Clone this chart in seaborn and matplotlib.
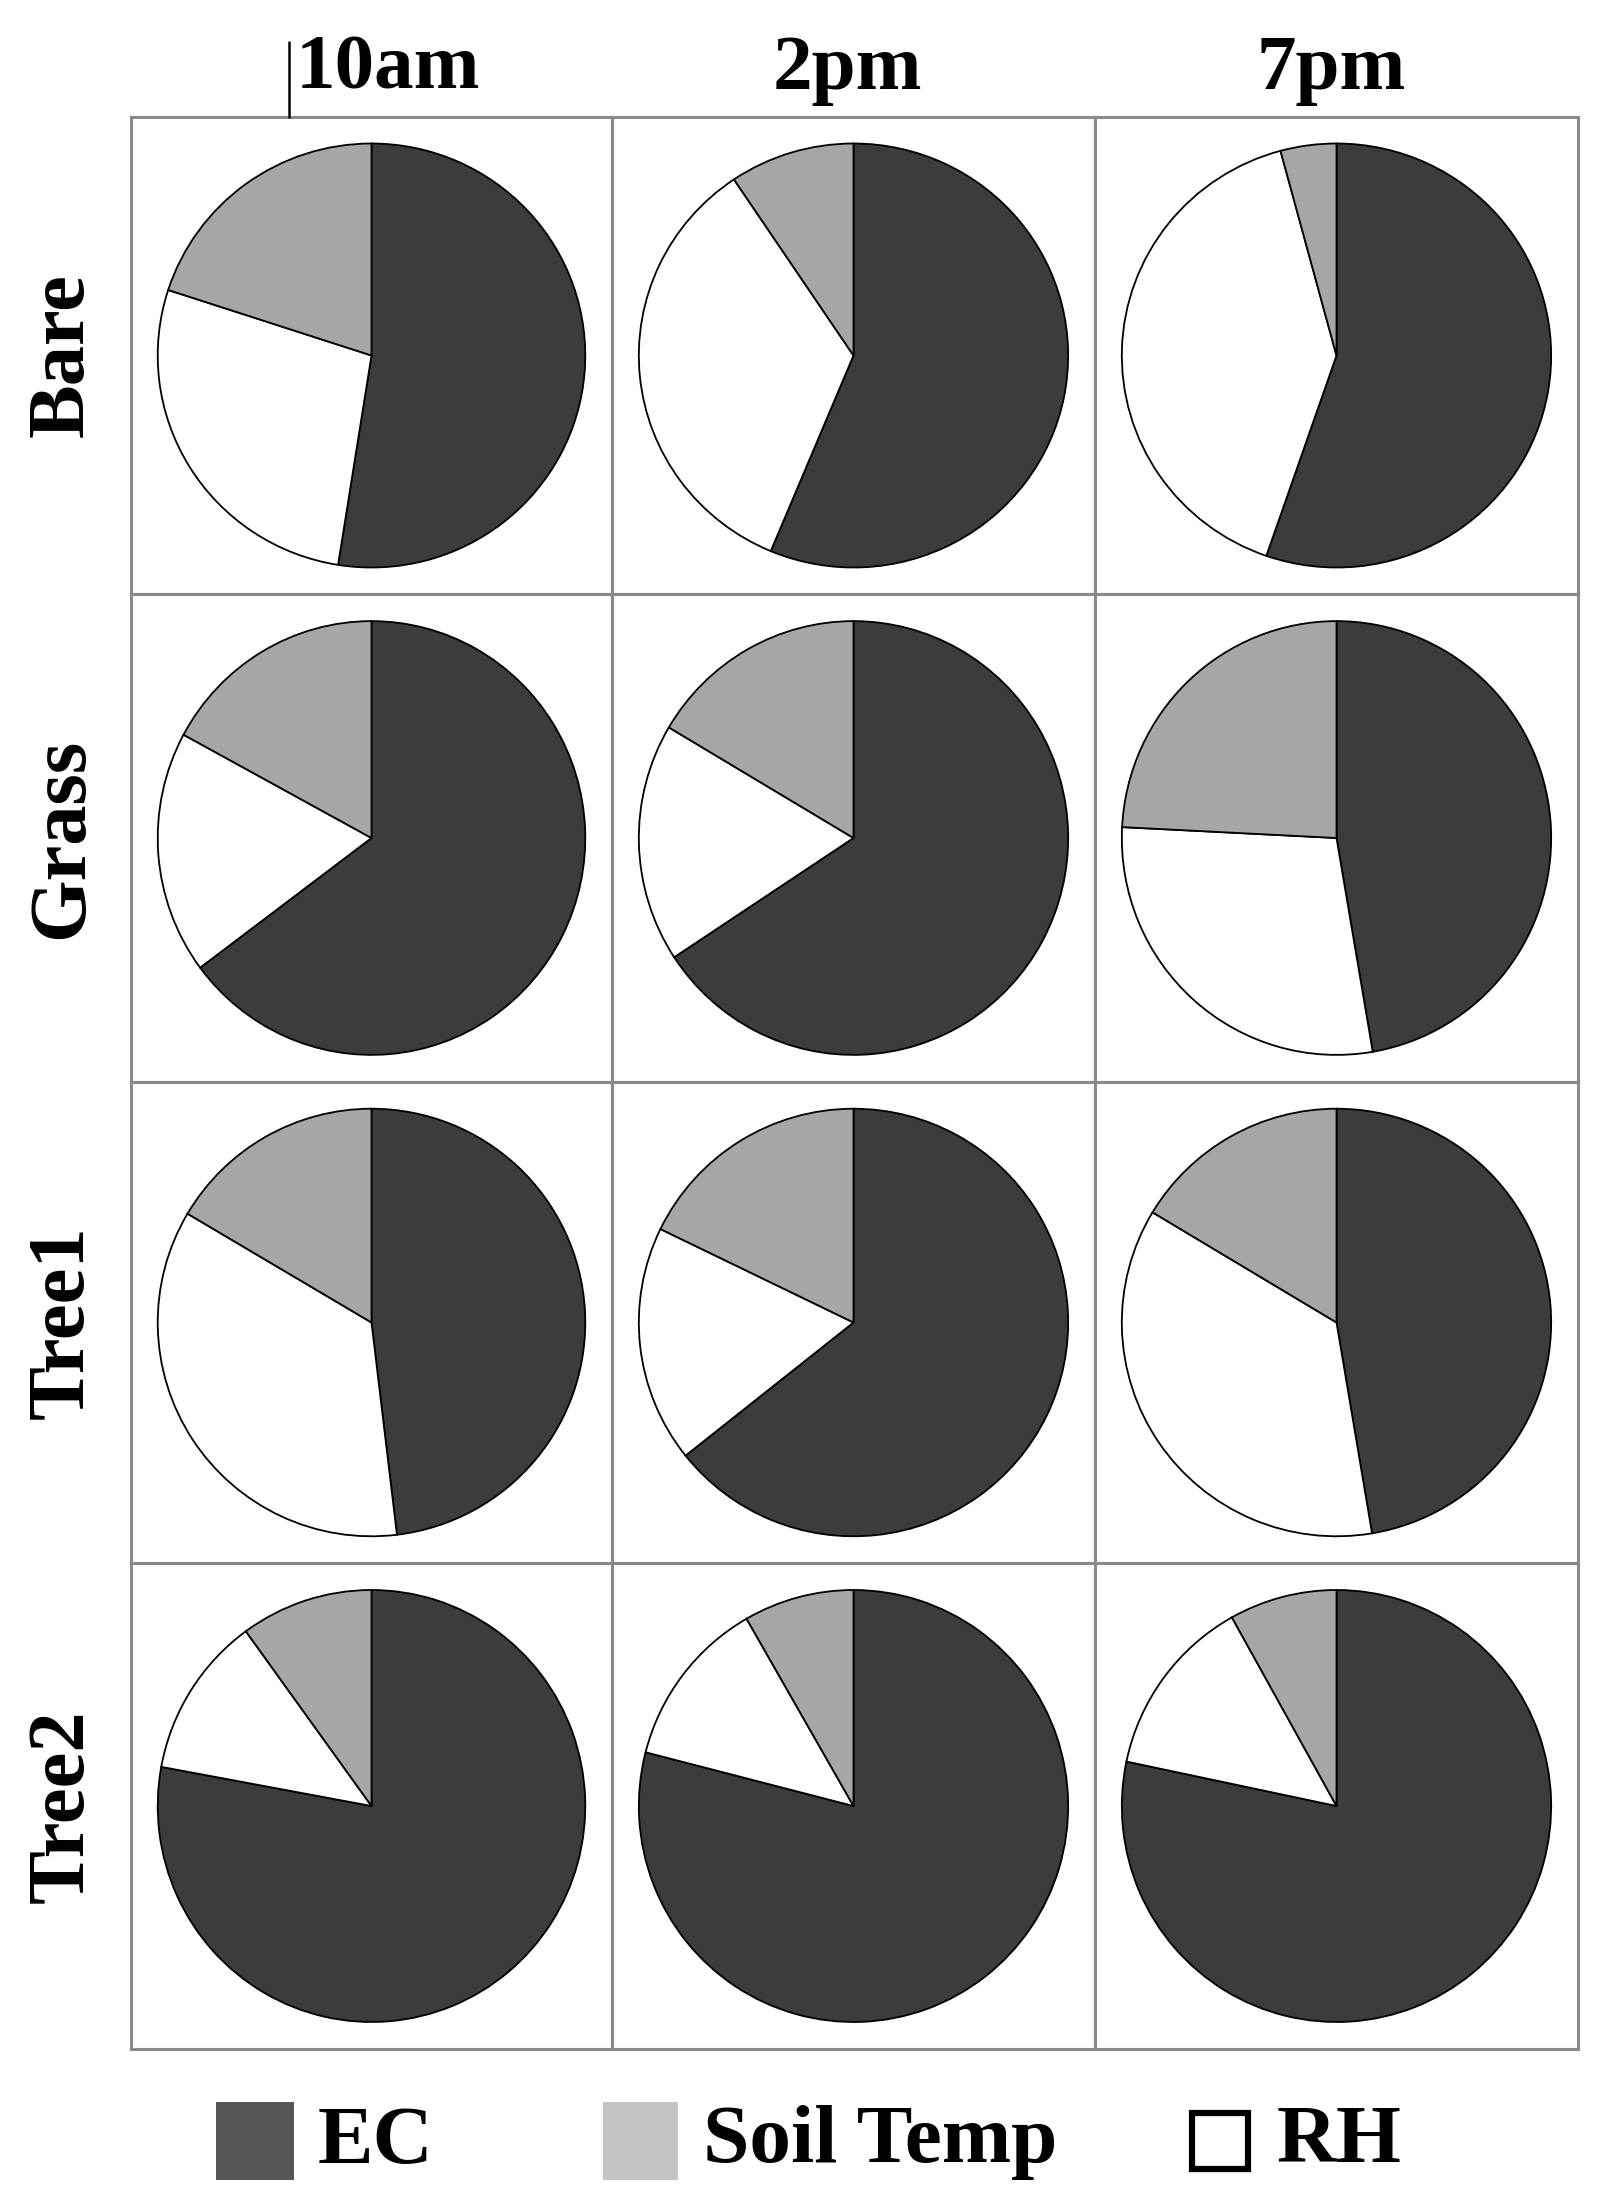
import matplotlib
matplotlib.use("Agg")
import matplotlib.pyplot as plt
import seaborn as sns
from matplotlib.patches import Rectangle
from matplotlib.lines import Line2D

sns.set_theme(style="white")
plt.rcParams['font.family'] = ['Liberation Serif', 'DejaVu Serif']

# ---- data (percent shares) ----
sites = ["Bare", "Grass", "Tree1", "Tree2"]
times = ["10am", "2pm", "7pm"]
series = ["EC", "Soil Temp", "RH"]
ec_share = [[52.5, 56.3, 55.3],
            [64.8, 65.8, 47.3],
            [48.1, 64.3, 47.4],
            [77.9, 79.0, 78.3]]
rh_share = [[27.5, 34.3, 40.5],
            [18.1, 17.8, 28.5],
            [35.4, 17.9, 36.3],
            [12.1, 12.7, 13.6]]
soil_temp_share = [[20.0, 9.4, 4.2],
                   [17.1, 16.5, 24.2],
                   [16.5, 17.8, 16.4],
                   [10.0, 8.3, 8.1]]

# ---- styling ----
W, H = 1603, 2212
fig = plt.figure(figsize=(W / 100, H / 100), dpi=100)
fig.patch.set_facecolor("white")

ec_col = "#3c3c3c"
st_col = "#a6a6a6"
rh_col = "#ffffff"
frame_col = "#8a8a8a"

col_edges = [131, 612, 1095, 1578]
row_edges = [117, 594, 1082, 1563, 2049]

def fx(x):
    return x / W

def fy(y):
    return 1 - y / H

for i, site in enumerate(sites):
    for j, t in enumerate(times):
        x0, x1 = col_edges[j], col_edges[j + 1]
        y0, y1 = row_edges[i], row_edges[i + 1]
        ax = fig.add_axes([fx(x0), fy(y1), fx(x1 - x0), (y1 - y0) / H])
        vals = [ec_share[i][j], rh_share[i][j], soil_temp_share[i][j]]
        ax.pie(vals, colors=[ec_col, rh_col, st_col], startangle=90,
               counterclock=False,
               wedgeprops=dict(edgecolor="black", linewidth=1.3))
        ax.set_xlim(-1.125, 1.125)
        ax.set_ylim(-1.125, 1.125)
        ax.set_aspect("auto")
        ax.set_frame_on(True)
        for s in ax.spines.values():
            s.set_visible(True)
            s.set_color(frame_col)
            s.set_linewidth(2.2)
        ax.set_xticks([])
        ax.set_yticks([])

# column titles
title_x = [388, 847, 1331]
for j, t in enumerate(times):
    fig.text(fx(title_x[j]), fy(70), t, ha="center", va="center",
             fontsize=57, fontweight="bold", color="black")
# small tick mark beside first title
fig.add_artist(Line2D([fx(289), fx(289)], [fy(42), fy(117)],
                      color="black", linewidth=1.8))

# row labels
for i, site in enumerate(sites):
    yc = (row_edges[i] + row_edges[i + 1]) / 2
    fig.text(fx(63), fy(yc), site, ha="center", va="center", rotation=90,
             fontsize=58, fontweight="bold", color="black")

# legend
leg_y = 2143
patches = [
    (216, 2102, 78, 78, "#555555", "none", 0, 318, "EC"),
    (603, 2102, 75, 78, "#c4c4c4", "none", 0, 703, "Soil Temp"),
    (1192, 2113, 56, 56, "white", "black", 4.5, 1277, "RH"),
]
for (px, py, pw, ph, fc, ecol, lw, tx, lab) in patches:
    fig.add_artist(Rectangle((fx(px), fy(py + ph)), pw / W, ph / H,
                             facecolor=fc, edgecolor=ecol, linewidth=lw,
                             transform=fig.transFigure))
    fig.text(fx(tx), fy(leg_y), lab, ha="left", va="center",
             fontsize=60, fontweight="bold", color="black")

fig.savefig("out.png", dpi=100, facecolor="white")
